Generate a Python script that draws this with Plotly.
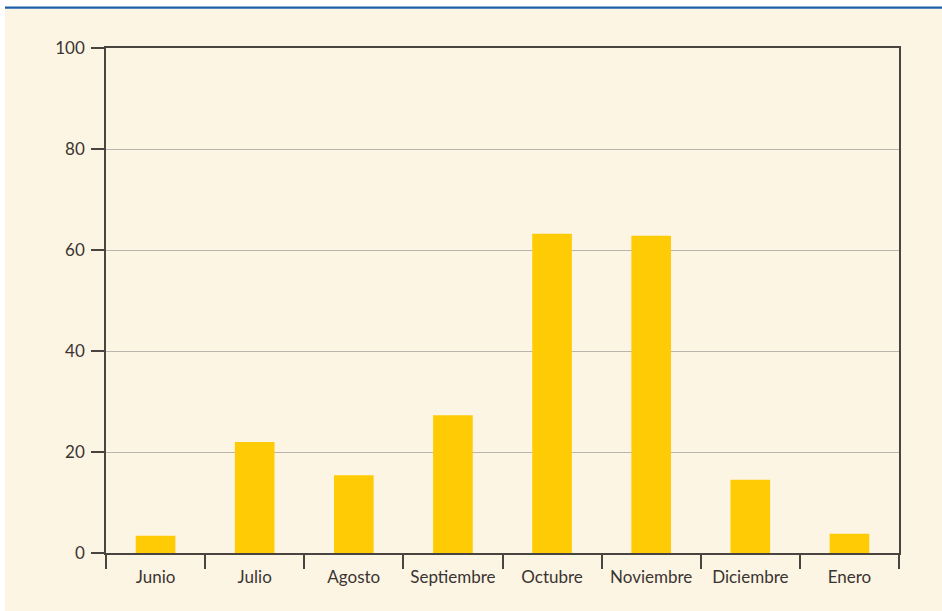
import plotly.graph_objects as go

meses = ["Junio", "Julio", "Agosto", "Septiembre", "Octubre", "Noviembre", "Diciembre", "Enero"]
valores = [3.4, 22.0, 15.4, 27.3, 63.2, 62.8, 14.5, 3.8]
y_ticks = [0, 20, 40, 60, 80, 100]

W, H = 942, 611
L, R, T, B = 106, 43, 48, 58
pw, ph = W - L - R, H - T - B

def px_x(p):
    return (p - L) / pw

def px_y(p):
    return (H - B - p) / ph

cream = "#fdf5e4"
axis_col = "#4a4441"
text_col = "#3a3431"
font_fam = "Lato, Roboto, sans-serif"

fig = go.Figure(go.Bar(
    x=meses, y=valores,
    marker=dict(color="#ffcb05", line=dict(width=0)),
    hoverinfo="skip",
))

shapes = [
    dict(type="rect", xref="paper", yref="paper", x0=px_x(0), x1=px_x(W), y0=px_y(9), y1=px_y(0),
         fillcolor="white", line=dict(width=0), layer="below"),
    dict(type="rect", xref="paper", yref="paper", x0=px_x(0), x1=px_x(5), y0=px_y(H), y1=px_y(0),
         fillcolor="white", line=dict(width=0), layer="below"),
    dict(type="rect", xref="paper", yref="paper", x0=px_x(5), x1=px_x(W), y0=px_y(8.8), y1=px_y(6.6),
         fillcolor="#1d5fa6", line=dict(width=0), layer="below"),
]

fig.update_layout(
    width=W, height=H,
    margin=dict(l=L, r=R, t=T, b=B, autoexpand=False),
    paper_bgcolor=cream, plot_bgcolor=cream,
    bargap=0.6,
    showlegend=False,
    font=dict(family=font_fam, size=17, color=text_col),
    shapes=shapes,
    xaxis=dict(
        showline=True, linecolor=axis_col, linewidth=1.5, mirror=True,
        ticks="outside", tickson="boundaries", ticklen=14, tickcolor=axis_col, tickwidth=1.5,
        showgrid=False, tickangle=0, ticklabelstandoff=8,
        tickfont=dict(size=17, color=text_col), fixedrange=True,
    ),
    yaxis=dict(
        range=[0, 100], tickvals=y_ticks,
        showline=True, linecolor=axis_col, linewidth=1.5, mirror=True,
        ticks="outside", ticklen=13, tickcolor=axis_col, tickwidth=1.5,
        ticklabelstandoff=3,
        showgrid=True, gridcolor="#b9b4ad", gridwidth=1.3, zeroline=False,
        tickfont=dict(size=17, color=text_col), fixedrange=True,
    ),
)

fig.write_html(
    "out.html",
    config={"displayModeBar": False},
    post_script="document.body.style.margin='0';document.body.style.overflow='hidden';",
)
